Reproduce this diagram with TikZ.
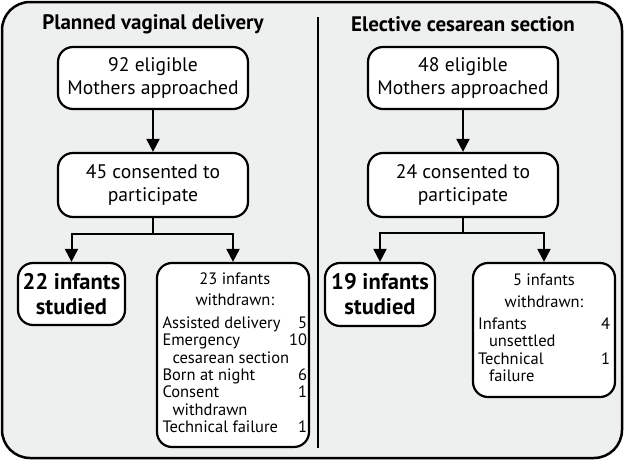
\documentclass[tikz,border=0pt]{standalone}
\usepackage{fontspec}
\setmainfont{PT Sans}
\usepackage{array}
\usetikzlibrary{arrows.meta,calc}
\definecolor{bg}{RGB}{238,239,239}
\begin{document}
\begin{tikzpicture}[x=1pt,y=-1pt,
  box/.style={draw, line width=2.2pt, rounded corners=15pt, fill=white, align=center, inner sep=0pt},
  conn/.style={line width=2pt},
  arr/.style={conn, -{Triangle[length=13pt,width=13pt]}},
  title/.style={font=\fontsize{21}{24}\bfseries\selectfont},
  main/.style={font=\fontsize{19.6}{22.5}\selectfont},
  bold/.style={font=\fontsize{22.5}{25}\bfseries\selectfont},
  smalltext/.style={font=\fontsize{16.5}{17.3}\selectfont}
]
\useasboundingbox (0,0) rectangle (625,461);
\draw[fill=bg, line width=2.5pt, rounded corners=28pt] (2,2) rectangle (622,458);
\coordinate (dtop) at (318,17);
\coordinate (dbot) at (318,448);
\draw[line width=2pt] (dtop) -- (dbot);

\node[title] (tl) at (153,24) {Planned vaginal delivery};
\node[title] (tr) at (463,24) {Elective cesarean section};

% left column
\node[box, main, minimum width=190pt, minimum height=62pt] (l1) at (153,78) {92 eligible\\Mothers approached};
\node[box, main, minimum width=190pt, minimum height=64pt] (l2) at (153,185) {45 consented to\\participate};
\node[box, bold, minimum width=107pt, minimum height=62pt] (l3) at (71.5,294) {22 infants\\studied};
\node[box, smalltext, minimum width=152pt, minimum height=184pt] (l4) at (233,355) {%
\begin{tabular*}{141pt}{@{}l@{\extracolsep{\fill}}r@{}}
\multicolumn{2}{c}{23 infants}\\[3.7pt]
\multicolumn{2}{c}{withdrawn:}\\[5.7pt]
Assisted delivery & 5\\
Emergency & 10\\
\hspace{10pt}cesarean section & \\
Born at night & 6\\
Consent & 1\\
\hspace{10pt}withdrawn & \\
Technical failure & 1
\end{tabular*}};

\draw[arr] (l1) -- (l2);
\coordinate (lj) at ($(l2.south)+(0,16)$);
\draw[conn] (l2.south) -- (lj);
\draw[arr] (lj) -| (l3.north);
\draw[arr] (lj) -| (l4.north);

% right column
\node[box, main, minimum width=190pt, minimum height=62pt] (r1) at (463,78) {48 eligible\\Mothers approached};
\node[box, main, minimum width=190pt, minimum height=64pt] (r2) at (463,185) {24 consented to\\participate};
\node[box, bold, minimum width=110pt, minimum height=63pt] (r3) at (380,294.5) {19 infants\\studied};
\node[box, smalltext, minimum width=142pt, minimum height=134pt] (r4) at (544,330) {%
\begin{tabular*}{132pt}{@{}l@{\extracolsep{\fill}}r@{}}
\multicolumn{2}{c}{5 infants}\\[4.7pt]
\multicolumn{2}{c}{withdrawn:}\\[4.7pt]
Infants & 4\\
\hspace{11pt}unsettled & \\
Technical & 1\\
\hspace{11pt}failure &
\end{tabular*}};

\draw[arr] (r1) -- (r2);
\coordinate (rj) at ($(r2.south)+(0,15)$);
\draw[conn] (r2.south) -- (rj);
\draw[arr] (rj) -| (r3.north);
\draw[arr] (rj) -| (r4.north);
\end{tikzpicture}
\end{document}
